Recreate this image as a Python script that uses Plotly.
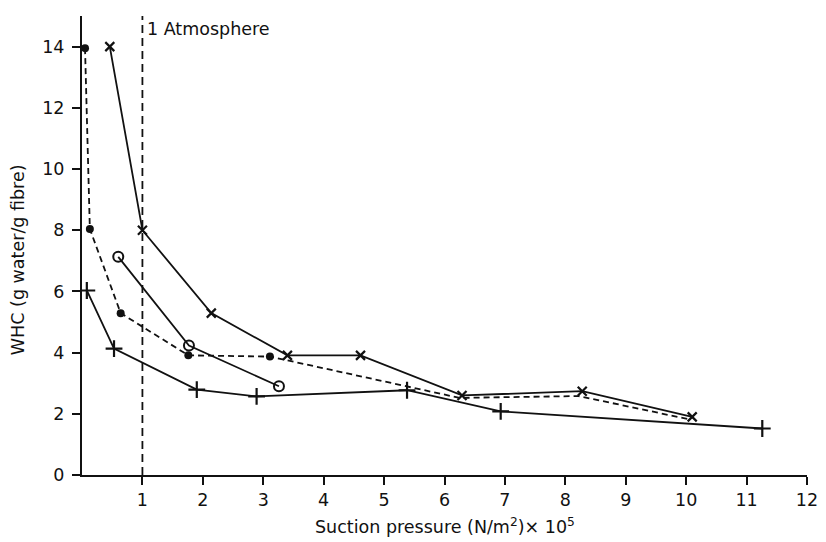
import plotly.graph_objects as go

# Series data (suction pressure in 10^5 N/m^2, WHC in g water/g fibre)
x_cross = [0.46, 1.0, 2.14, 3.40, 4.61, 6.29, 8.28, 10.10]
y_cross = [14.0, 8.0, 5.29, 3.91, 3.91, 2.60, 2.74, 1.90]

x_dot = [0.05, 0.13, 0.64, 1.76, 3.11, 6.25, 8.22, 10.05]
y_dot = [13.95, 8.04, 5.29, 3.91, 3.87, 2.52, 2.58, 1.82]
dot_marked = [True, True, True, True, True, False, False, False]

x_open = [0.60, 1.77, 3.26]
y_open = [7.13, 4.23, 2.90]

x_plus = [0.08, 0.53, 1.90, 2.89, 5.38, 6.93, 11.26]
y_plus = [6.03, 4.13, 2.79, 2.57, 2.77, 2.08, 1.52]

x_ticks = list(range(1, 13))
y_ticks = [0, 2, 4, 6, 8, 10, 12, 14]
ATMOSPHERE_X = 1
ATMOSPHERE_LABEL = "1 Atmosphere"
X_TITLE = "Suction pressure (N/m<sup>2</sup>)\u00d7 10<sup>5</sup>"
Y_TITLE = "WHC (g water/g fibre)"

FONT = "DejaVu Sans, Verdana, sans-serif"
INK = "#111111"
FS = 17.5

fig = go.Figure()

fig.add_trace(go.Scatter(
    x=x_cross, y=y_cross, mode="lines+markers",
    line=dict(color=INK, width=1.8),
    marker=dict(symbol="x-thin", size=9, line=dict(color=INK, width=2.2), color=INK),
    showlegend=False))

fig.add_trace(go.Scatter(
    x=x_dot, y=y_dot, mode="lines",
    line=dict(color=INK, width=1.8, dash="6px,4px"),
    showlegend=False))
fig.add_trace(go.Scatter(
    x=[x for x, m in zip(x_dot, dot_marked) if m],
    y=[y for y, m in zip(y_dot, dot_marked) if m],
    mode="markers",
    marker=dict(symbol="circle", size=8, color=INK),
    showlegend=False))

fig.add_trace(go.Scatter(
    x=x_open, y=y_open, mode="lines+markers",
    line=dict(color=INK, width=1.8),
    marker=dict(symbol="circle-open", size=10, color=INK, line=dict(width=2)),
    showlegend=False))

fig.add_trace(go.Scatter(
    x=x_plus, y=y_plus, mode="lines+markers",
    line=dict(color=INK, width=1.8),
    marker=dict(symbol="cross-thin", size=12, line=dict(color=INK, width=2.2), color=INK),
    showlegend=False))

fig.add_shape(type="line", xref="x", yref="paper", x0=ATMOSPHERE_X, x1=ATMOSPHERE_X, y0=0, y1=1,
              line=dict(color=INK, width=1.8, dash="8px,5px"))
fig.add_annotation(x=ATMOSPHERE_X, xref="x", y=1, yref="paper", text=ATMOSPHERE_LABEL,
                   showarrow=False, xanchor="left", yanchor="top", xshift=3, yshift=-1,
                   font=dict(family=FONT, size=FS, color=INK))

fig.add_annotation(text=X_TITLE, xref="paper", yref="paper", x=0.5, y=0, yshift=-38,
                   xanchor="center", yanchor="top", showarrow=False,
                   font=dict(family=FONT, size=FS, color=INK))
fig.add_annotation(text=Y_TITLE, xref="paper", yref="paper", x=0, xshift=-64, y=0.468,
                   xanchor="center", yanchor="middle", textangle=-90, showarrow=False,
                   font=dict(family=FONT, size=FS, color=INK))

fig.update_xaxes(range=[0, 12], tickvals=x_ticks, ticktext=[str(v) for v in x_ticks],
                 showgrid=False, zeroline=False, showline=True, linecolor=INK, linewidth=2,
                 ticks="outside", ticklen=8, tickwidth=2, tickcolor=INK,
                 tickfont=dict(family=FONT, size=FS, color=INK))
fig.update_yaxes(range=[0, 15], tickvals=y_ticks, ticktext=[str(v) for v in y_ticks],
                 showgrid=False, zeroline=False, showline=True, linecolor=INK, linewidth=2,
                 ticks="outside", ticklen=8, tickwidth=2, tickcolor=INK,
                 tickfont=dict(family=FONT, size=FS, color=INK), ticklabelstandoff=4)

# page body has an 8px default margin, so the figure is offset by 8px
fig.update_layout(width=818, height=534, margin=dict(l=74, r=16, t=8, b=67),
                  plot_bgcolor="white", paper_bgcolor="white",
                  font=dict(family=FONT, color=INK))

fig.write_html("out.html")
